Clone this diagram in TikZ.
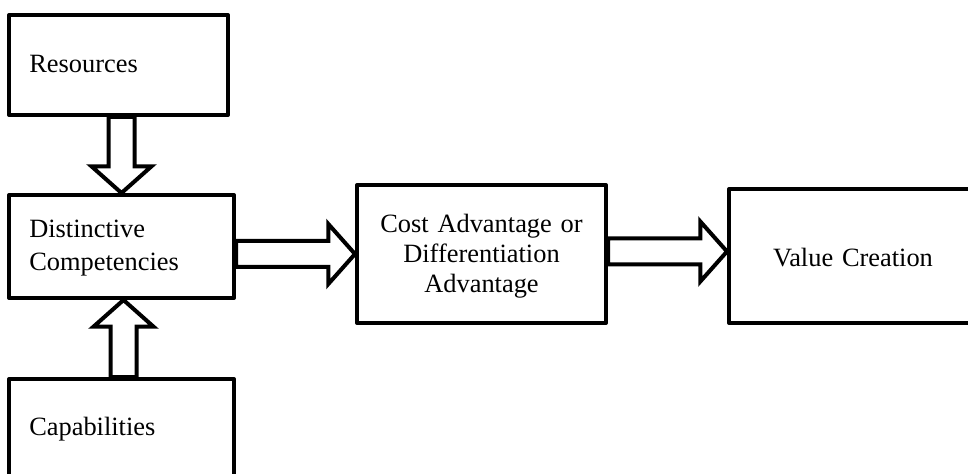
\documentclass[tikz,border=0pt]{standalone}
\usepackage{fontspec}
\setmainfont{Liberation Serif}
\usetikzlibrary{calc}

% block-arrow dimensions (half shaft width, half head width, head length)
\def\hs{9.75pt}
\def\hh{22.5pt}
\def\hl{20pt}

% hollow block arrow pointing right, from the x of #1 to the point #2
\newcommand\blockright[2]{%
  \draw[blockarrow] let \p1=(#1), \p2=(#2) in
    (\x1,\y2+\hs) -- (\x2-\hl,\y2+\hs) -- (\x2-\hl,\y2+\hh) -- (\x2,\y2)
    -- (\x2-\hl,\y2-\hh) -- (\x2-\hl,\y2-\hs) -- (\x1,\y2-\hs) -- cycle;}
% hollow block arrow pointing down, from the y of #1 to the point #2
\newcommand\blockdown[2]{%
  \draw[blockarrow] let \p1=(#1), \p2=(#2) in
    (\x2-\hs,\y1) -- (\x2-\hs,\y2+\hl) -- (\x2-\hh,\y2+\hl) -- (\x2,\y2)
    -- (\x2+\hh,\y2+\hl) -- (\x2+\hs,\y2+\hl) -- (\x2+\hs,\y1) -- cycle;}
% hollow block arrow pointing up, from the y of #1 to the point #2
\newcommand\blockup[2]{%
  \draw[blockarrow] let \p1=(#1), \p2=(#2) in
    (\x2-\hs,\y1) -- (\x2-\hs,\y2-\hl) -- (\x2-\hh,\y2-\hl) -- (\x2,\y2)
    -- (\x2+\hh,\y2-\hl) -- (\x2+\hs,\y2-\hl) -- (\x2+\hs,\y1) -- cycle;}

\begin{document}
\begin{tikzpicture}[x=0.75pt, y=-0.75pt,
  box/.style={draw, line width=3pt, line join=round, fill=white,
    inner sep=0pt},
  lbl/.style={inner sep=0pt, font=\fontsize{19.8}{#1}\selectfont},
  lbl/.default={23pt},
  leftlbl/.style={lbl=#1, anchor=base west, align=left, text width=190pt},
  leftlbl/.default={23pt},
  midlbl/.style={lbl=#1, anchor=base, align=center, text width=180pt},
  midlbl/.default={23pt},
  blockarrow/.style={draw, line width=3pt, fill=white, miter limit=10}]

\useasboundingbox (0,0) rectangle (968,474);
\clip (0,0) rectangle (968,474);

% boxes
\node[box, minimum width={219*0.75pt}, minimum height={100*0.75pt}]
  (res) at (118.5,65) {};
\node[box, minimum width={225*0.75pt}, minimum height={103*0.75pt}]
  (dc) at (121.5,246.5) {};
\node[box, minimum width={225*0.75pt}, minimum height={106*0.75pt}]
  (cap) at (121.5,432) {};
\node[box, minimum width={249*0.75pt}, minimum height={138*0.75pt}]
  (cost) at (481.5,254) {};
\node[box, minimum width={248*0.75pt}, minimum height={134*0.75pt}]
  (val) at (853,256) {};

% box texts, placed on their first baselines
\node[leftlbl] (resT) at ($(res.west)+(22,8)$) {Resources};
\node[leftlbl=24.75pt] (dcT) at ($(dc.west)+(22,-8.5)$)
  {Distinctive\\Competencies};
\node[leftlbl] (capT) at ($(cap.west)+(22,3)$) {Capabilities};
\node[midlbl=22.5pt] (costT) at ($(cost.center)+(0,-21)$)
  {Cost Advantage or\\Differentiation\\Advantage};
\node[midlbl] (valT) at ($(val.center)+(0,11)$) {Value Creation};

% hollow block arrows between the boxes
\blockdown{res.south}{dc.north}
\blockup{cap.north}{$(dc.south)+(2,0)$}
\blockright{dc.east}{cost.west}
\blockright{cost.east}{$(val.west)+(0,-4.5)$}

\end{tikzpicture}
\end{document}
